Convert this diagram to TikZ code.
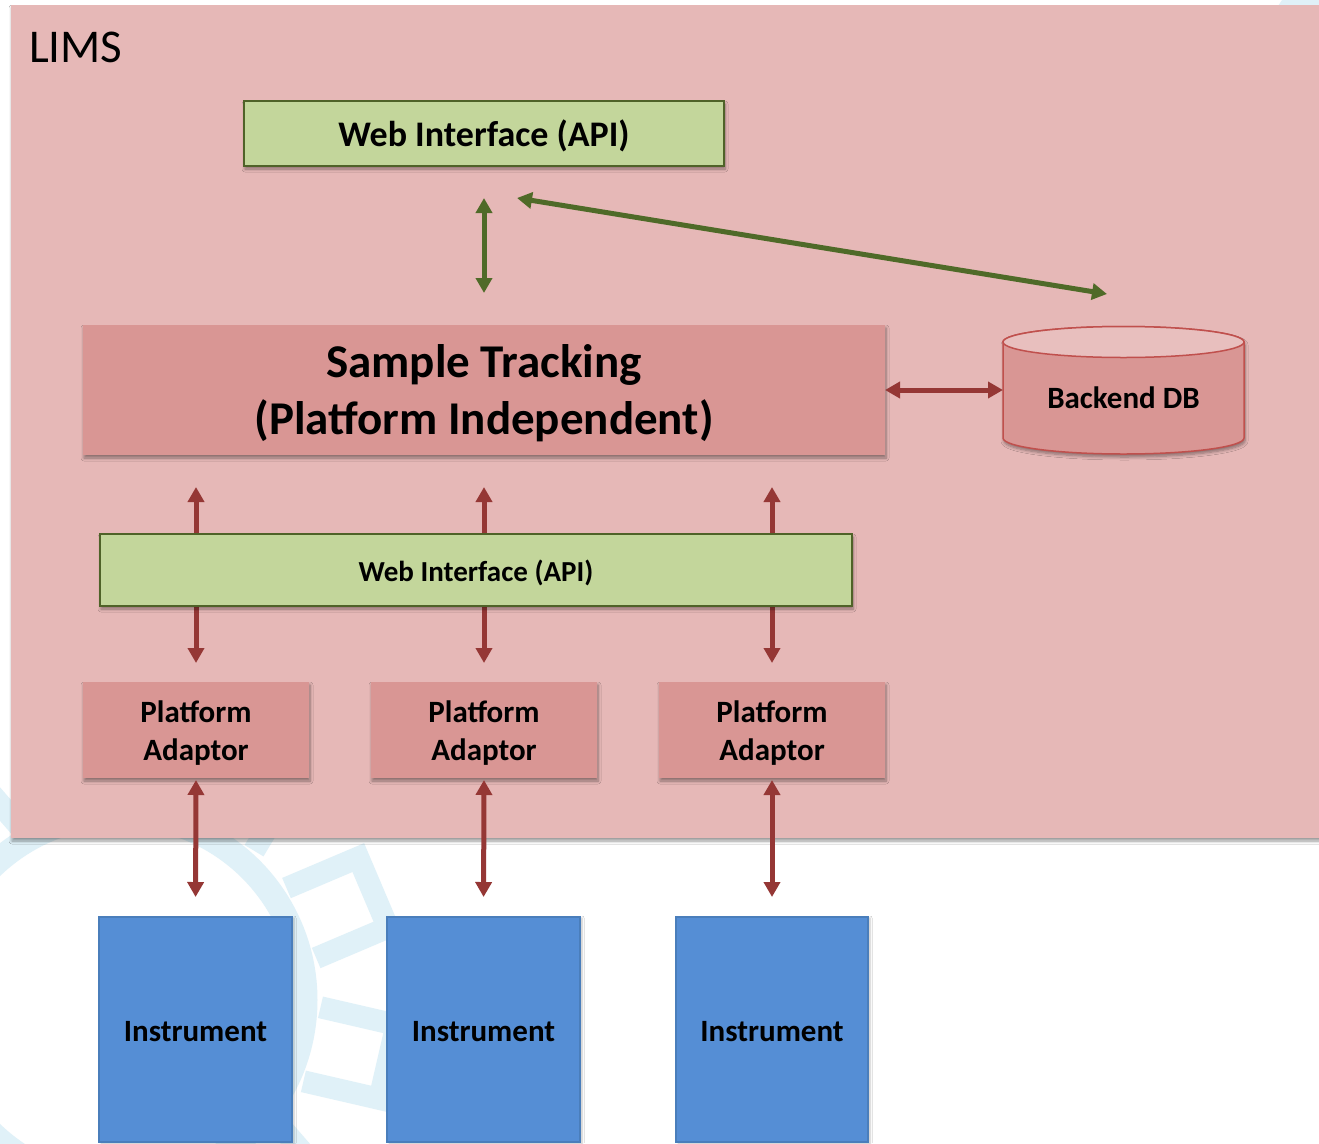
\documentclass[tikz,border=0pt]{standalone}
\usepackage{fontspec}
\setmainfont{Carlito}
\usetikzlibrary{arrows.meta,shadows.blur}

\definecolor{limsfill}{HTML}{E6B8B7}
\definecolor{trackfill}{HTML}{D99694}
\definecolor{apifill}{HTML}{C3D69B}
\definecolor{apiline}{HTML}{4F6228}
\definecolor{greenarrow}{HTML}{4F6A28}
\definecolor{redarrow}{HTML}{953735}
\definecolor{dbtop}{HTML}{E8BFBE}
\definecolor{dbline}{HTML}{C0504D}
\definecolor{instfill}{HTML}{558ED5}
\definecolor{instline}{HTML}{4A7EBB}
\definecolor{wmline}{HTML}{E0F1F8}

% invisible strut that lowers a centred label
\newcommand{\lowerby}[1]{\rule{0pt}{#1}}

\begin{document}
\begin{tikzpicture}[x=1pt,y=-1pt,
  box/.style={rectangle, inner sep=0pt, outer sep=0pt, align=center},
  softshadow/.style={blur shadow={shadow xshift=1pt, shadow yshift=-3pt,
      shadow blur radius=3pt, shadow blur steps=6, shadow opacity=40}},
  apibox/.style={box, fill=apifill, draw=apiline, line width=2pt, softshadow},
  trackbox/.style={box, fill=trackfill, softshadow},
  instbox/.style={box, fill=instfill, draw=instline, line width=1.5pt,
      blur shadow={shadow xshift=2pt, shadow yshift=-1pt, shadow blur radius=2pt, shadow opacity=25},
      font=\bfseries\fontsize{31}{37}\selectfont},
  adaptbox/.style={trackbox, minimum width=226pt, minimum height=96pt,
      font=\bfseries\fontsize{31}{38}\selectfont},
  greenlink/.style={color=greenarrow, line width=5pt,
      {Triangle[width=16pt,length=15pt]}-{Triangle[width=16pt,length=15pt]}},
  redlink/.style={color=redarrow, line width=5pt,
      {Triangle[width=16pt,length=15pt]}-{Triangle[width=16pt,length=15pt]}},
  gearline/.style={draw=wmline},
]
\useasboundingbox (0,0) rectangle (1319,1143);
\clip (0,0) rectangle (1319,1143);
\fill[white] (0,0) rectangle (1319,1143);

% faint gear watermark in the background
\begin{scope}[shift={(120,1000)}]
  \draw[gearline, line width=25pt] (0,0) circle[radius=185pt];
  \foreach \a in {23,59,95,131,167,203,239,275,311,347}
    \draw[gearline, line width=22pt, rotate=\a]
      (197,-38) -- (275,-38) -- (275,38) -- (197,38);
\end{scope}
\fill[wmline] (1278,6) -- (1282,0) -- (1319,0) -- (1319,6) -- cycle;

% LIMS container
\node[box, fill=limsfill, anchor=north west, minimum width=1330pt, minimum height=833pt,
      softshadow] (lims) at (11,5) {};
\node[inner sep=0pt, anchor=base west, font=\fontsize{47}{56}\selectfont] (limslabel) at (29,62) {LIMS};

% upper web interface and sample tracking
\node[apibox, minimum width=480pt, minimum height=65pt,
      font=\bfseries\fontsize{36}{43}\selectfont] (webtop) at (484,133.5)
      {\lowerby{31pt}Web Interface (API)};
\node[trackbox, minimum width=802pt, minimum height=130pt,
      font=\bfseries\fontsize{47}{57}\selectfont] (track) at (484,390)
      {\lowerby{40pt}Sample Tracking\\(Platform Independent)};

% backend database cylinder
\path[fill=trackfill, draw=dbline, line width=1.5pt, softshadow]
  (1003,342) -- (1003,438) arc[start angle=180, end angle=360, x radius=120.5pt, y radius=16pt]
  -- (1244,342) arc[start angle=0, end angle=180, x radius=120.5pt, y radius=15.5pt] -- cycle;
\path[fill=dbtop, draw=dbline, line width=1.5pt]
  (1123.5,342) ellipse[x radius=120.5pt, y radius=15.5pt];
\node[box, minimum width=241pt, minimum height=128pt, text height=37pt, text depth=0pt,
      font=\bfseries\fontsize{31}{37}\selectfont] (db) at (1123.5,390) {Backend DB};

% platform adaptors
\node[adaptbox] (ad1) at (196,730) {\lowerby{28pt}Platform\\Adaptor};
\node[adaptbox] (ad2) at (484,730) {\lowerby{28pt}Platform\\Adaptor};
\node[adaptbox] (ad3) at (772,730) {\lowerby{28pt}Platform\\Adaptor};

% links through the lower web interface (drawn first so the box covers them)
\foreach \n in {ad1,ad2,ad3}
  \draw[redlink, shorten <=32pt, shorten >=19pt] (\n.north |- track.south) -- (\n.north);

\node[apibox, minimum width=752pt, minimum height=72pt,
      font=\bfseries\fontsize{29}{35}\selectfont] (webmid) at (476,570)
      {\lowerby{27pt}Web Interface (API)};

% instruments
\node[instbox, minimum width=193pt, minimum height=225pt] (in1) at (195.5,1029.5) {\lowerby{25pt}Instrument};
\node[instbox, minimum width=193pt, minimum height=225pt] (in2) at (483.5,1029.5) {\lowerby{25pt}Instrument};
\node[instbox, minimum width=192pt, minimum height=225pt] (in3) at (772,1029.5) {\lowerby{25pt}Instrument};

% green links
\coordinate (gA) at (517,198);
\coordinate (gB) at (1107,294);
\draw[greenlink, shorten <=32pt, shorten >=32pt] (webtop.south) -- (track.north);
\draw[greenlink] (gA) -- (gB);

% track <-> database
\draw[redlink] (track.east) -- (db.west);

% adaptor <-> instrument links
\draw[redlink, shorten <=2pt, shorten >=20pt] (ad1.south) -- (in1.north);
\draw[redlink, shorten <=2pt, shorten >=20pt] (ad2.south) -- (in2.north);
\draw[redlink, shorten <=2pt, shorten >=20pt] (ad3.south) -- (in3.north);
\end{tikzpicture}
\end{document}
